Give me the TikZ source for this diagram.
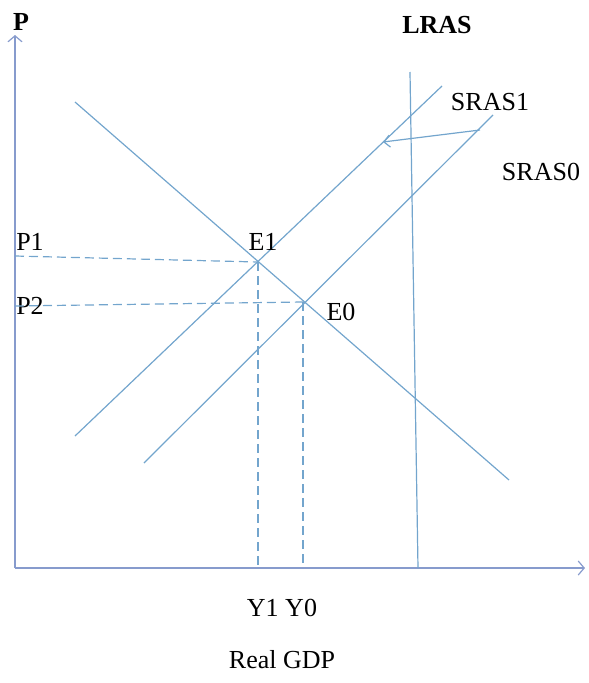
\documentclass[tikz,border=0pt]{standalone}
\usepackage{fontspec}
\setmainfont{Liberation Serif}
\usetikzlibrary{arrows.meta}

\definecolor{curveblue}{RGB}{115,165,205}
\definecolor{axisblue}{RGB}{135,155,205}

\begin{document}
\begin{tikzpicture}[x=1pt, y=-1pt,
    curve/.style={draw=curveblue, line width=1.2pt},
    guide/.style={curve, dash pattern=on 9pt off 5pt},
    axis/.style={draw=axisblue, line width=1.2pt,
                 -{Straight Barb[length=6pt, width=14pt]}},
    lbl/.style={font=\fontsize{26}{29}\selectfont, inner sep=0pt},
    boldlbl/.style={font=\fontsize{26}{29}\selectfont\bfseries, inner sep=0pt}
]
    \useasboundingbox (0,0) rectangle (589,683);

    % ========== axes ==========
    \coordinate (O)    at (15,568);
    \coordinate (ytop) at (15,35);
    \coordinate (xend) at (585,568);
    \draw[axis] (O) -- (ytop);
    \draw[axis] (O) -- (xend);
    \node[boldlbl] (plab) at (21,22) {P};

    % ========== curves ==========
    \coordinate (lras_t) at (410,72);
    \coordinate (lras_b) at (418,568);
    \coordinate (ad_t)   at (75,102);
    \coordinate (ad_b)   at (509,480);
    \coordinate (s1_b)   at (75,436);
    \coordinate (s1_t)   at (442,86);
    \coordinate (s0_b)   at (144,463);
    \coordinate (s0_t)   at (493,115);
    \draw[curve] (lras_t) -- (lras_b);
    \draw[curve] (ad_t) -- (ad_b);
    \draw[curve] (s1_b) -- (s1_t);
    \draw[curve] (s0_b) -- (s0_t);

    \node[boldlbl] (lras) at (437,25)  {LRAS};
    \node[lbl]     (sras1) at (490,102) {SRAS1};
    \node[lbl]     (sras0) at (541,172) {SRAS0};

    % shift of SRAS
    \coordinate (shift_a) at (480,130);
    \coordinate (shift_b) at (383,142);
    \draw[curve, -{Straight Barb[length=6pt, width=12pt]}] (shift_a) -- (shift_b);

    % ========== equilibria ==========
    \coordinate (E1) at (258,262);
    \coordinate (E0) at (303,302);
    \node[lbl] (e1lab) at (263,242) {E1};
    \node[lbl] (e0lab) at (341,312) {E0};

    \node[lbl] (p1) at (30,242) {P1};
    \node[lbl] (p2) at (30,306) {P2};
    \coordinate (p1_a) at (15,256);
    \coordinate (p2_a) at (15,306);
    \draw[guide] (p1_a) -- (E1);
    \draw[guide] (p2_a) -- (E0);
    \draw[guide] (E1) -- (E1 |- O);
    \draw[guide] (E0) -- (E0 |- O);

    \node[lbl] (ylab) at (282,608) {Y1 Y0};
    \node[lbl] (gdp)  at (282,660) {Real GDP};
\end{tikzpicture}
\end{document}
